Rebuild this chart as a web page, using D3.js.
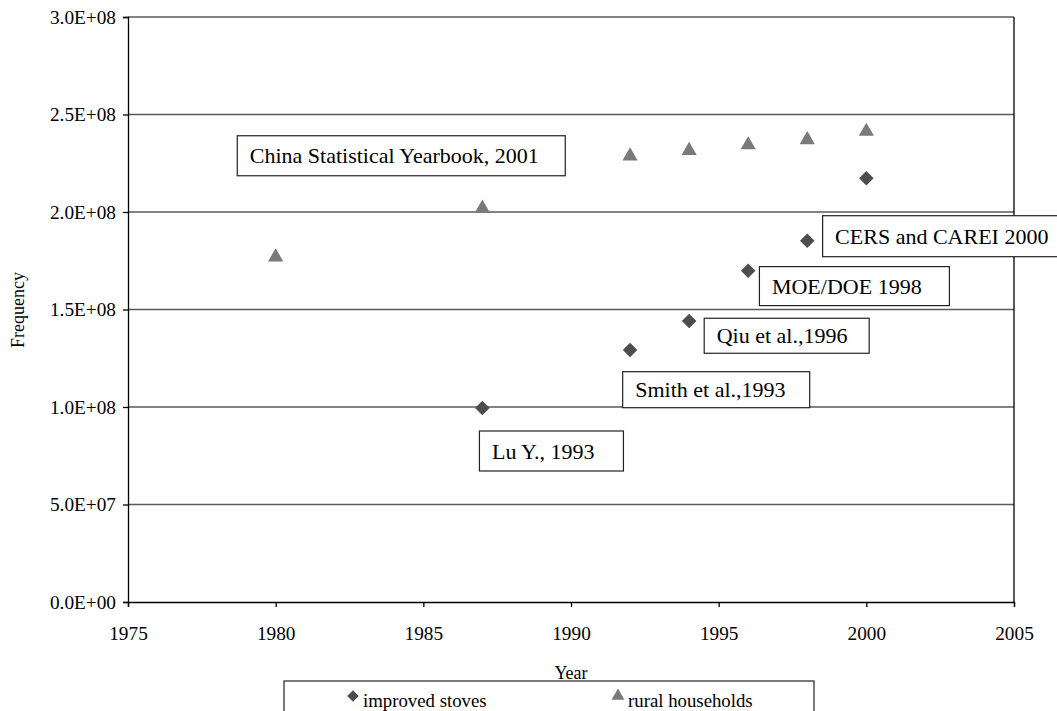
<!DOCTYPE html>
<html>
<head>
<meta charset="utf-8">
<script src="https://cdn.jsdelivr.net/npm/d3@7"></script>
<style>
  body { margin: 0; background: #fff; }
  text { font-family: "Liberation Serif", "Times New Roman", serif; fill: #000; }
</style>
</head>
<body>
<div id="chart"></div>
<script>
// data
var stoveYears = [1987, 1992, 1994, 1996, 1998, 2000];
var stoveValues = [0.995e8, 1.292e8, 1.441e8, 1.699e8, 1.853e8, 2.173e8];

var ruralYears = [1980, 1987, 1992, 1994, 1996, 1998, 2000];
var ruralValues = [1.769e8, 2.019e8, 2.287e8, 2.315e8, 2.344e8, 2.37e8, 2.413e8];

var xTicks = [1975, 1980, 1985, 1990, 1995, 2000, 2005];
var yTicks = [0, 0.5e8, 1.0e8, 1.5e8, 2.0e8, 2.5e8, 3.0e8];
var yTickLabels = ["0.0E+00", "5.0E+07", "1.0E+08", "1.5E+08", "2.0E+08", "2.5E+08", "3.0E+08"];

var seriesNames = ["improved stoves", "rural households"];
var sourceLabels = ["China Statistical Yearbook, 2001", "CERS and CAREI 2000", "MOE/DOE 1998",
                    "Qiu et al.,1996", "Smith et al.,1993", "Lu Y., 1993"];

// where each source box sits (year, value of top-left corner) and its size in px
var sourceBoxes = [
    [1978.70, 2.391e8, 328, 40],
    [1998.52, 1.981e8, 240, 41],
    [1996.38, 1.720e8, 190, 39],
    [1994.51, 1.455e8, 165, 35],
    [1991.75, 1.181e8, 187, 36],
    [1986.90, 0.877e8, 144, 40]
];

const width = 1057;
const height = 711;
const plotLeft = 128, plotRight = 1014, plotTop = 17, plotBottom = 602;

var svg = d3.select("#chart")
    .append("svg")
    .attr("width", width)
    .attr("height", height);

var x = d3.scaleLinear().domain([1975, 2005]).range([plotLeft, plotRight]);
var y = d3.scaleLinear().domain([0, 3.0e8]).range([plotBottom, plotTop]);

// gridlines
svg.append("g")
    .selectAll("line")
    .data(yTicks.slice(1))
    .enter().append("line")
    .attr("x1", plotLeft).attr("x2", plotRight)
    .attr("y1", d => y(d)).attr("y2", d => y(d))
    .attr("stroke", "#5a5a5a")
    .attr("stroke-width", 1.3);

// right border
svg.append("line")
    .attr("x1", plotRight).attr("x2", plotRight)
    .attr("y1", plotTop).attr("y2", plotBottom)
    .attr("stroke", "#000").attr("stroke-width", 1.3);

// axes
var yAxis = d3.axisLeft(y)
    .tickValues(yTicks)
    .tickFormat((d, i) => yTickLabels[i])
    .tickSize(5)
    .tickPadding(7);

var gy = svg.append("g")
    .attr("transform", "translate(" + plotLeft + ",0)")
    .call(yAxis);

var xAxis = d3.axisBottom(x)
    .tickValues(xTicks)
    .tickFormat(d3.format("d"))
    .tickSize(5)
    .tickPadding(19);

var gx = svg.append("g")
    .attr("transform", "translate(0," + plotBottom + ")")
    .call(xAxis);

[gx, gy].forEach(function(g) {
    g.select(".domain").attr("stroke", "#000").attr("stroke-width", 1.3);
    g.selectAll(".tick line").attr("stroke", "#000").attr("stroke-width", 1.3);
    g.selectAll("text")
        .attr("font-family", "Liberation Serif, Times New Roman, serif")
        .attr("font-size", 19.3)
        .attr("fill", "#000");
});

// axis titles
svg.append("text")
    .attr("x", 571).attr("y", 679)
    .attr("text-anchor", "middle")
    .attr("font-size", 18)
    .text("Year");

svg.append("text")
    .attr("transform", "translate(24,310) rotate(-90)")
    .attr("text-anchor", "middle")
    .attr("font-size", 18)
    .text("Frequency");

// markers
var diamond = d3.symbol().type(d3.symbolSquare).size(105);
var triangle = d3.symbol().type(d3.symbolTriangle).size(100);

svg.append("g")
    .selectAll("path")
    .data(ruralYears)
    .enter().append("path")
    .attr("d", triangle)
    .attr("transform", (d, i) => "translate(" + x(d) + "," + y(ruralValues[i]) + ")")
    .attr("fill", "#7a7a7a");

svg.append("g")
    .selectAll("path")
    .data(stoveYears)
    .enter().append("path")
    .attr("d", diamond)
    .attr("transform", (d, i) => "translate(" + x(d) + "," + y(stoveValues[i]) + ") rotate(45)")
    .attr("fill", "#4d4d4d");

// source boxes
var boxes = svg.append("g")
    .selectAll("g")
    .data(sourceLabels)
    .enter().append("g")
    .attr("transform", (d, i) => "translate(" + x(sourceBoxes[i][0]) + "," + y(sourceBoxes[i][1]) + ")");

boxes.append("rect")
    .attr("width", (d, i) => sourceBoxes[i][2])
    .attr("height", (d, i) => sourceBoxes[i][3])
    .attr("fill", "#fff")
    .attr("stroke", "#222")
    .attr("stroke-width", 1.2);

boxes.append("text")
    .attr("x", 12.5)
    .attr("y", (d, i) => sourceBoxes[i][3] / 2)
    .attr("dy", "0.35em")
    .attr("font-size", 22)
    .text(d => d);

// legend
var legend = svg.append("g");
legend.append("rect")
    .attr("x", 284).attr("y", 681)
    .attr("width", 530).attr("height", 40)
    .attr("fill", "#fff")
    .attr("stroke", "#222")
    .attr("stroke-width", 1.2);

var legendX = [353, 618];
var legendShapes = [diamond, triangle];
var legendColors = ["#4d4d4d", "#7a7a7a"];

seriesNames.forEach(function(name, i) {
    legend.append("path")
        .attr("d", legendShapes[i])
        .attr("transform", "translate(" + legendX[i] + ",696)" + (i === 0 ? " rotate(45) scale(0.8)" : " scale(0.85)"))
        .attr("fill", legendColors[i]);
    legend.append("text")
        .attr("x", legendX[i] + 10).attr("y", 707)
        .attr("font-size", 18.8)
        .text(name);
});
</script>
</body>
</html>
